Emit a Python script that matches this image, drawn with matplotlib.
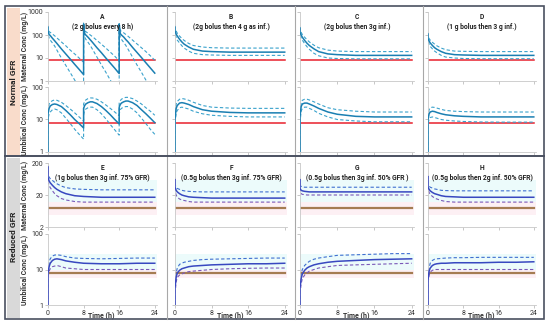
import numpy as np
import matplotlib.pyplot as plt
from matplotlib.patches import Rectangle
from matplotlib.lines import Line2D

plt.rcParams['font.family'] = ['Roboto', 'DejaVu Sans']

W, H = 550, 325

# ---- data (mg/L) ----
# panel A: repeated 2 g bolus every 8 h
a_t = [0, 0, 0.25, 0.5, 1, 1.5, 2, 3, 4, 5, 6, 7, 8,
       8, 8.25, 8.5, 9, 9.5, 10, 11, 12, 13, 14, 15, 16,
       16, 16.25, 16.5, 17, 17.5, 18, 19, 20, 21, 22, 23, 24]
a_mat_med = [220, 150, 105, 95, 72, 56, 43, 25, 15, 9, 5.3, 3.2, 1.9,
             300, 115, 100, 80, 62, 48, 28, 17, 10, 6, 3.6, 2.1,
             300, 115, 100, 82, 63, 50, 29, 17.5, 10.5, 6.2, 3.7, 2.2]
a_mat_hi = [260, 180, 140, 130, 110, 92, 75, 50, 34, 22, 15, 10, 6.5,
            330, 150, 140, 120, 100, 85, 58, 40, 27, 18, 12, 7.5,
            330, 155, 145, 125, 105, 88, 60, 41, 28, 19, 12.5, 8]
a_mat_lo = [170, 110, 75, 60, 45, 33, 22, 10, 4.8, 2.3, 1.1, 0.5, 0.25,
            250, 80, 65, 48, 35, 24, 11, 5, 2.4, 1.1, 0.5, 0.25,
            250, 80, 65, 48, 35, 24, 11, 5, 2.4, 1.1, 0.5, 0.25]
a_umb_med = [0.5, 15, 22, 26, 29, 30, 29, 25, 19, 14, 10, 7.5, 5.5,
             22, 27, 30, 33, 35, 35, 31, 25, 19, 14, 10, 7.3,
             24, 29, 32, 35, 37, 37, 33, 27, 20, 15, 11, 8]
a_umb_hi = [0.5, 20, 30, 34, 38, 40, 39, 34, 27, 21, 16, 12, 9,
            30, 36, 40, 44, 46, 46, 42, 35, 28, 22, 17, 13,
            32, 38, 42, 46, 48, 48, 44, 37, 30, 23, 18, 13.5]
a_umb_lo = [0.5, 10, 15, 17, 20, 21, 20, 16, 11, 7.5, 5, 3.5, 2.5,
            14, 19, 21, 23, 24, 24, 20, 15, 10.5, 7, 4.8, 3.3,
            15, 20, 22, 24, 25, 25, 21, 16, 11, 7.5, 5, 3.5]

# panels B-H: bolus then infusion
t_grid = [0, 0, 0.25, 0.5, 1, 1.5, 2, 3, 4, 6, 8, 12, 16, 20, 24]

b_mat_med = [220, 150, 110, 90, 65, 50, 40, 30, 24, 20, 19, 18, 18, 18, 18]
b_mat_hi = [260, 200, 150, 120, 90, 70, 58, 43, 35, 30, 28, 27, 27, 27, 27]
b_mat_lo = [180, 110, 80, 60, 45, 34, 27, 20, 16, 14, 13.5, 13, 13, 13, 13]
b_umb_med = [0.5, 10, 22, 27, 32, 33, 32, 29, 25, 20, 18, 16.5, 16, 16, 16]
b_umb_hi = [0.5, 14, 30, 36, 42, 44, 43, 39, 34, 27, 24, 22.5, 22, 22, 22]
b_umb_lo = [0.5, 7, 16, 19, 23, 24, 23, 21, 18, 15, 13.5, 12.5, 12, 12, 12]

c_mat_med = [200, 130, 100, 80, 58, 44, 35, 25, 19, 15, 14, 13, 13, 13, 13]
c_mat_hi = [230, 160, 130, 105, 80, 62, 50, 36, 28, 22, 20, 19, 19, 19, 19]
c_mat_lo = [170, 100, 75, 60, 42, 31, 24, 16, 12.5, 10, 9.5, 9.2, 9.2, 9.2, 9.2]
c_umb_med = [0.5, 12, 25, 30, 32, 32, 30, 26, 22, 17, 14.5, 12.5, 12, 12, 12]
c_umb_hi = [0.5, 16, 33, 39, 42, 42, 40, 35, 30, 23, 20, 18, 17, 17, 17]
c_umb_lo = [0.5, 8, 18, 22, 24, 24, 22, 19, 15.5, 12, 10, 9, 8.5, 8.5, 8.5]

d_mat_med = [110, 70, 55, 45, 35, 28, 24, 19, 16, 14, 13.5, 13, 13, 13, 13]
d_mat_hi = [130, 85, 70, 60, 48, 40, 34, 27, 23, 20, 19.5, 19, 19, 19, 19]
d_mat_lo = [90, 55, 40, 32, 25, 20, 17, 13, 11, 10, 9.5, 9.3, 9.3, 9.3, 9.3]
d_umb_med = [0.5, 10, 15, 17, 18, 17.5, 16.5, 15, 14, 13, 12.5, 12, 12, 12, 12]
d_umb_hi = [0.5, 13, 20, 23, 24, 23.5, 22.5, 20.5, 19, 18, 17.5, 17, 17, 17, 17]
d_umb_lo = [0.5, 7, 10.5, 11.5, 12, 11.5, 11, 10, 9.5, 9, 8.7, 8.4, 8.3, 8.3, 8.3]

e_mat_med = [150, 70, 55, 48, 40, 34, 30, 25, 22, 19, 18, 17, 17, 17, 17]
e_mat_hi = [170, 90, 72, 65, 57, 50, 45, 38, 34, 31, 30, 29, 29, 29, 29]
e_mat_lo = [120, 50, 40, 34, 27, 22, 19, 15.5, 14, 12.5, 12, 12, 12, 12, 12]
e_umb_med = [0.5, 8, 12, 15, 18, 19.5, 20, 19, 17.5, 16, 15, 14.5, 14.5, 15, 15]
e_umb_hi = [0.5, 10, 16, 20, 24, 25.5, 26, 25, 23, 21, 20.5, 20, 20.5, 21, 21]
e_umb_lo = [0.5, 6, 9, 10.5, 12, 12.5, 13, 12, 11, 10.5, 10, 10, 10, 10, 10]

f_mat_med = [60, 35, 28, 25, 22, 20, 19, 17.5, 17, 16.5, 16, 16, 16, 16, 16]
f_mat_hi = [70, 42, 35, 32, 30, 28, 27, 26, 25.5, 25, 25, 25, 25, 25, 25]
f_mat_lo = [50, 28, 20, 17, 15, 14, 13.5, 12.5, 12, 12, 12, 12, 12, 12, 12]
f_umb_med = [0.5, 3, 6, 8, 9.5, 10.5, 11, 12, 12.5, 13, 13.5, 14, 14.5, 14.5, 15]
f_umb_hi = [0.5, 4, 8, 11, 14, 15, 16, 17, 18, 19, 19.5, 20, 20.5, 21, 21]
f_umb_lo = [0.5, 2, 4.5, 6, 7, 7.5, 8, 8.7, 9, 9.5, 10, 10.5, 10.8, 11, 11]

g_mat_med = [60, 32, 28, 27, 26, 25.5, 25, 25, 25, 25, 25, 25, 25, 25, 25]
g_mat_hi = [65, 40, 37, 36, 35, 35, 35, 35, 35, 35, 35, 35, 35, 35, 35]
g_mat_lo = [50, 26, 22, 21, 20.5, 20, 20, 20, 20, 20, 20, 20, 20, 20, 20]
g_umb_med = [0.5, 3, 5.5, 7.5, 9.5, 11, 12, 13.5, 14.5, 16, 17, 18, 19, 19.5, 20]
g_umb_hi = [0.5, 4, 7.5, 10, 13, 15, 17, 19.5, 21, 23, 25, 26, 27, 28, 28]
g_umb_lo = [0.5, 2, 4, 5.5, 7, 8, 9, 10, 11, 12, 13, 13.5, 14, 14.5, 15]

h_mat_med = [75, 35, 30, 27, 24, 22, 21, 19, 18, 17.5, 17, 17, 17, 17, 17]
h_mat_hi = [80, 42, 38, 35, 33, 31, 30, 28, 27.5, 27, 27, 27, 27, 27, 27]
h_mat_lo = [60, 30, 24, 21, 18, 16, 15, 13.5, 12.5, 12, 12, 12, 12, 12, 12]
h_umb_med = [0.5, 5, 9, 11, 13, 14, 14.5, 15, 15, 15.5, 15.5, 15.5, 16, 16, 16.5]
h_umb_hi = [0.5, 6, 11, 15, 18, 19.5, 20, 20.5, 21, 21.5, 21.5, 22, 22, 22, 22]
h_umb_lo = [0.5, 4, 7, 8.5, 9.5, 10, 10, 10, 10, 10, 10, 10, 10, 10, 10]

threshold = 8
titles = ["A\n(2 g bolus every 8 h)", "B\n(2g bolus then 4 g as inf.)",
          "C\n(2g bolus then 3g inf.)", "D\n(1 g bolus then 3 g inf.)",
          "E\n(1g bolus then 3g inf. 75% GFR)", "F\n(0.5g bolus then 3g inf. 75% GFR)",
          "G\n(0.5g bolus then 3g inf. 50% GFR )", "H\n(0.5g bolus then 2g inf. 50% GFR)"]
x_ticks = [0, 8, 16, 24]

# ---- layout (pixels) ----
col_x = [(48, 157), (175, 287), (300, 414), (428, 536)]
row_y = [(12, 81), (87, 152), (163, 227), (234, 305)]
row_lim = [(1, 1000), (1, 100), (2, 200), (1, 100)]
row_ticks = [[1, 10, 100, 1000], [1, 10, 100], [2, 20, 200], [1, 10, 100]]

fig = plt.figure(figsize=(W / 100, H / 100), dpi=100)


def fx(x):
    return x / W


def fy(y):
    return 1 - y / H


def make_ax(c, r):
    x0, x1 = col_x[c]
    y0, y1 = row_y[r]
    ax = fig.add_axes([fx(x0), fy(y1), (x1 - x0) / W, (y1 - y0) / H])
    ax.set_yscale('log')
    ax.set_xlim(0, 24.5)
    ax.set_ylim(*row_lim[r])
    ax.set_xticks(x_ticks)
    ax.set_yticks(row_ticks[r])
    ax.minorticks_off()
    ax.patch.set_alpha(0)
    for s in ['top', 'right']:
        ax.spines[s].set_visible(False)
    for s in ['left', 'bottom']:
        ax.spines[s].set_color('#c8c8c8')
        ax.spines[s].set_linewidth(0.6)
    ax.tick_params(length=2, width=0.5, color='#b0b0b0', labelsize=5, pad=1.5,
                   labelcolor='#333333')
    if c == 0:
        ax.set_yticklabels([str(v) for v in row_ticks[r]])
    else:
        ax.set_yticklabels([])
    if r == 3:
        ax.set_xticklabels(['0', '8', '16', '24'])
        ax.text(12, 0.66, 'Time (h)', fontsize=5, fontweight='bold',
                ha='center', va='top', color='#333333')
    else:
        ax.set_xticklabels([])
    return ax


normal_med, normal_band = '#1a7fb2', '#3aa2cc'
red_med, red_hi, red_lo = '#3848c0', '#3f6fd0', '#7a58b8'

panels = [
    (a_t, a_mat_med, a_mat_hi, a_mat_lo, a_umb_med, a_umb_hi, a_umb_lo),
    (t_grid, b_mat_med, b_mat_hi, b_mat_lo, b_umb_med, b_umb_hi, b_umb_lo),
    (t_grid, c_mat_med, c_mat_hi, c_mat_lo, c_umb_med, c_umb_hi, c_umb_lo),
    (t_grid, d_mat_med, d_mat_hi, d_mat_lo, d_umb_med, d_umb_hi, d_umb_lo),
    (t_grid, e_mat_med, e_mat_hi, e_mat_lo, e_umb_med, e_umb_hi, e_umb_lo),
    (t_grid, f_mat_med, f_mat_hi, f_mat_lo, f_umb_med, f_umb_hi, f_umb_lo),
    (t_grid, g_mat_med, g_mat_hi, g_mat_lo, g_umb_med, g_umb_hi, g_umb_lo),
    (t_grid, h_mat_med, h_mat_hi, h_mat_lo, h_umb_med, h_umb_hi, h_umb_lo),
]

for i, (t, mm, mh, ml, um, uh, ul) in enumerate(panels):
    c = i % 4
    reduced = i >= 4
    for k, (med, hi, lo) in enumerate([(mm, mh, ml), (um, uh, ul)]):
        r = k + (2 if reduced else 0)
        ax = make_ax(c, r)
        if reduced:
            if k == 0:
                ax.axhspan(12, 60, color='#ecfbfb', lw=0, zorder=0)
                ax.axhspan(4.7, 12, color='#fdf0f4', lw=0, zorder=0)
            else:
                ax.axhspan(9.6, 28, color='#ecfbfb', lw=0, zorder=0)
                ax.axhspan(5.8, 9.6, color='#fdf0f4', lw=0, zorder=0)
            ax.plot([0, 24], [threshold, threshold], color='#a57c52', lw=1.6, zorder=1)
            ax.plot(t, hi, color=red_hi, lw=0.8, ls=(0, (3, 2)), zorder=2)
            ax.plot(t, lo, color=red_lo, lw=0.8, ls=(0, (3, 2)), zorder=2)
            ax.plot(t, med, color=red_med, lw=1.1, zorder=3)
        else:
            ax.plot([0, 24], [threshold, threshold], color='#e8202c', lw=1.1, zorder=1)
            ax.plot(t, hi, color=normal_band, lw=0.8, ls=(0, (3, 2)), zorder=2)
            ax.plot(t, lo, color=normal_band, lw=0.8, ls=(0, (3, 2)), zorder=2)
            ax.plot(t, med, color=normal_med, lw=1.1, zorder=3)
        if k == 0:
            ax.text(0.5, 0.985, titles[i], transform=ax.transAxes, ha='center', va='top',
                    fontsize=4.9, fontweight='bold', color='#222222', linespacing=1.4)
        if c == 0:
            lab = 'Maternal Conc (mg/L)' if k == 0 else 'Umbilical Conc (mg/L)'
            y0, y1 = row_y[r]
            fig.text(fx(25), fy((y0 + y1) / 2), lab, rotation=90, ha='center', va='center',
                     fontsize=5, fontweight='bold', color='#333333')

# ---- frame, group strips, separators ----
fig.add_artist(Rectangle((fx(7), fy(155)), 13 / W, 147 / H, transform=fig.transFigure,
                         facecolor='#f9dccb', edgecolor='none', zorder=0))
fig.add_artist(Rectangle((fx(7), fy(318)), 13 / W, 160 / H, transform=fig.transFigure,
                         facecolor='#d9d9d9', edgecolor='none', zorder=0))
fig.text(fx(14), fy(82), 'Normal GFR', rotation=90, ha='center', va='center',
         fontsize=6, fontweight='bold', color='#222222')
fig.text(fx(14), fy(237), 'Reduced GFR', rotation=90, ha='center', va='center',
         fontsize=6, fontweight='bold', color='#222222')

for x in [167, 295, 423]:
    fig.add_artist(Line2D([fx(x), fx(x)], [fy(6), fy(319)], color='#a8a8a8', lw=0.8))
fig.add_artist(Line2D([fx(5), fx(544)], [fy(156), fy(156)], color='#4a5060', lw=1.4))
fig.add_artist(Rectangle((fx(5), fy(319)), 539 / W, 313 / H, transform=fig.transFigure,
                         facecolor='none', edgecolor='#4a5060', lw=1.2))

fig.savefig('out.png', dpi=100, facecolor='white')
